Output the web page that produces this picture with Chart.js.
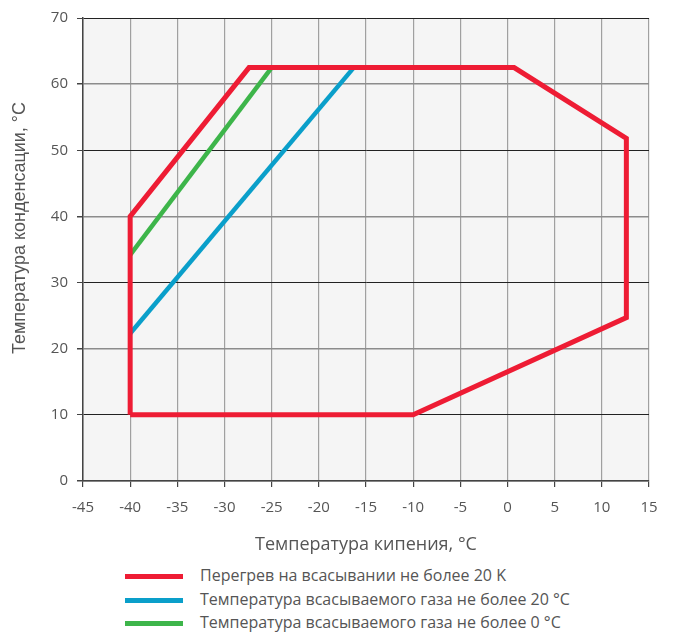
<!DOCTYPE html>
<html>
<head>
<meta charset="utf-8">
<script src="https://cdn.jsdelivr.net/npm/chart.js@4"></script>
<style>
    html, body { margin: 0; padding: 0; background: #fff; }
    #wrap { position: relative; width: 675px; height: 635px; font-family: "Open Sans", sans-serif; }
    #chart { position: absolute; left: 0; top: 0; }
    .leg { position: absolute; left: 125px; height: 20px; font-size: 16px; color: #555; white-space: nowrap; }
    .leg span { display: inline-block; width: 58px; height: 5px; vertical-align: middle; margin-right: 17px; }
</style>
</head>
<body>
<div id="wrap">
    <canvas id="chart" width="675" height="560"></canvas>
    <div class="leg" style="top:564px"><span style="background:#ee1c34"></span>Перегрев на всасывании не более 20 K</div>
    <div class="leg" style="top:588px"><span style="background:#0a9fca"></span>Температура всасываемого газа не более 20 °C</div>
    <div class="leg" style="top:611px"><span style="background:#3db54a"></span>Температура всасываемого газа не более 0 °C</div>
</div>
<script>
// boiling temperature (x) / condensing temperature (y)
const redX = [-40, -40, -27.4, 0.7, 12.6, 12.6, -10, -40]
const redY = [10, 40, 62.5, 62.5, 51.8, 24.7, 10, 10]
const blueX = [-40, -16.3]
const blueY = [22.3, 62.5]
const greenX = [-40, -25]
const greenY = [34.2, 62.5]

const xTicks = [-45, -40, -35, -30, -25, -20, -15, -10, -5, 0, 5, 10, 15]
const yTicks = [0, 10, 20, 30, 40, 50, 60, 70]

const yTitle = 'Температура конденсации, °C'

const toPoints = (xs, ys) => xs.map((x, i) => ({ x, y: ys[i] }))

const plotBg = {
    id: 'plotBg',
    beforeDraw(chart) {
        const { ctx, chartArea: a } = chart
        ctx.save()
        ctx.fillStyle = '#f5f5f5'
        ctx.fillRect(a.left, a.top, a.right - a.left, a.bottom - a.top)
        ctx.restore()
    },
    afterDraw(chart) {
        // y title sits a bit above the plot centre in the original
        const { ctx } = chart
        ctx.save()
        ctx.translate(20, 228)
        ctx.rotate(-Math.PI / 2)
        ctx.font = '18px "Liberation Sans", Arial, sans-serif'
        ctx.fillStyle = '#555'
        ctx.textAlign = 'center'
        ctx.textBaseline = 'middle'
        ctx.fillText(yTitle, 0, 0)
        ctx.restore()
    }
}

const textColor = '#555'

new Chart(document.getElementById('chart').getContext('2d'), {
    type: 'scatter',
    data: {
        datasets: [
            { label: 'Перегрев на всасывании не более 20 K', data: toPoints(redX, redY), borderColor: '#ee1c34', borderWidth: 5 },
            { label: 'Температура всасываемого газа не более 20 °C', data: toPoints(blueX, blueY), borderColor: '#0a9fca', borderWidth: 4.5 },
            { label: 'Температура всасываемого газа не более 0 °C', data: toPoints(greenX, greenY), borderColor: '#3db54a', borderWidth: 4.5 }
        ].map(ds => ({ ...ds, showLine: true, pointRadius: 0, fill: false, tension: 0, borderJoinStyle: 'miter', borderCapStyle: 'butt' }))
    },
    options: {
        responsive: false,
        animation: false,
        layout: { padding: { top: 16, right: 26 } },
        plugins: {
            legend: { display: false },
            tooltip: { enabled: false }
        },
        scales: {
            x: {
                type: 'linear',
                min: -45,
                max: 15,
                afterBuildTicks: s => { s.ticks = xTicks.map(v => ({ value: v })) },
                afterFit: s => { s.height = 79 },
                ticks: { color: textColor, font: { family: 'Open Sans', size: 15 }, padding: 12, maxRotation: 0 },
                grid: { color: '#a0a0a0', lineWidth: 1.2, tickLength: 6, tickColor: '#444' },
                border: { color: '#444', width: 1.5 },
                title: { display: true, text: 'Температура кипения, °C', color: textColor, font: { family: 'Open Sans', size: 18 }, padding: { bottom: 4 } }
            },
            y: {
                type: 'linear',
                min: 0,
                max: 70,
                afterBuildTicks: s => { s.ticks = yTicks.map(v => ({ value: v })) },
                afterFit: s => { s.width = 83 },
                ticks: { color: textColor, font: { family: 'Open Sans', size: 15 }, padding: 9 },
                grid: {
                    color: c => (c.tick.value % 20 === 10 ? '#222' : '#8c8c8c'),
                    lineWidth: c => (c.tick.value % 20 === 10 ? 1 : 1.5),
                    tickLength: 6,
                    tickColor: '#444'
                },
                border: { color: '#444', width: 1.5 },
                title: { display: false }
            }
        }
    },
    plugins: [plotBg]
})
</script>
</body>
</html>
